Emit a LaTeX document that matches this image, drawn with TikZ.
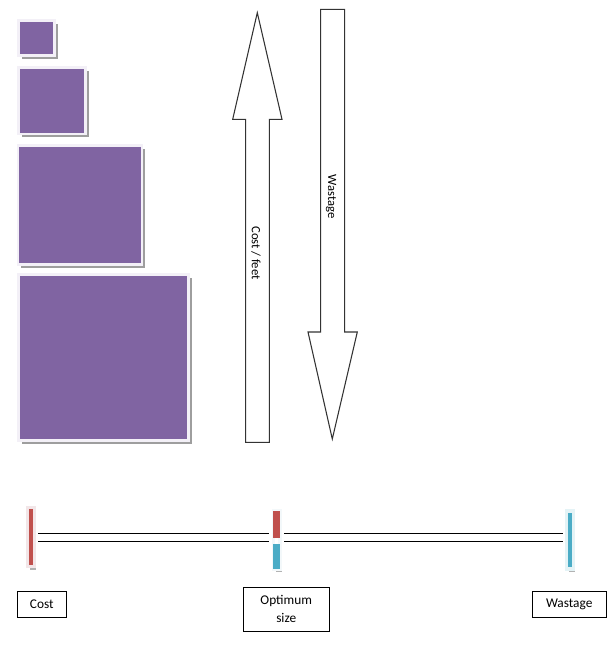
\documentclass[tikz,border=0pt]{standalone}
\usepackage{fontspec}
\setmainfont{Carlito}
\usetikzlibrary{shadows}
\definecolor{sqpurple}{HTML}{8064A2}
\definecolor{sqframe}{HTML}{F3F0F7}
\definecolor{barred}{HTML}{C0504D}
\definecolor{barblue}{HTML}{4BACC6}
\definecolor{barframe}{HTML}{F2E6E8}
\definecolor{outline}{HTML}{333333}
\begin{document}
\begin{tikzpicture}[x=0.75pt,y=-0.75pt,
  sq/.style={rectangle, inner sep=0pt, outer sep=0pt, fill=sqpurple, draw=sqframe,
    line width=2pt, drop shadow={shadow xshift=2.4pt, shadow yshift=-2.4pt, fill=black!38, opacity=1}},
  bar/.style={rectangle, inner sep=0pt, outer sep=0pt, draw=barframe, line width=2.4pt,
    minimum width=6.5*0.75pt,
    drop shadow={shadow xshift=1.6pt, shadow yshift=-2.2pt, fill=black!30, opacity=1}},
  bigarrow/.style={draw=outline, line width=0.8pt, fill=white, line join=miter},
  lbl/.style={rectangle, draw=black, line width=0.75pt, inner sep=0pt, outer sep=0pt,
    font=\fontsize{10}{13.5}\selectfont, align=center},
  rotlbl/.style={font=\fontsize{9.5}{11}\selectfont, rotate=-90, inner sep=0pt},
  dbl/.style={draw=black, line width=0.75pt, double=white, double distance=5pt,
    shorten <=3pt, shorten >=3pt}
]
\useasboundingbox (0,0) rectangle (613,658);

% purple squares
\node[sq, minimum width=36.3*0.75pt, minimum height=35.3*0.75pt] (sqa) at (36.5,38) {};
\node[sq, minimum width=67.3*0.75pt, minimum height=66.3*0.75pt] (sqb) at (52,100.8) {};
\node[sq, minimum width=124*0.75pt, minimum height=119.3*0.75pt] (sqc) at (80,205) {};
\node[sq, minimum width=170.3*0.75pt, minimum height=166.3*0.75pt] (sqd) at (103.5,357.5) {};

% up arrow: Cost / feet
\path[bigarrow] (257.3,12.7) -- (282,119.3) -- (269.3,119.3) -- (269.3,442.3)
  -- (245.7,442.3) -- (245.7,119.3) -- (232.7,119.3) -- cycle;
\node[rotlbl] (costfeet) at (256,253) {Cost / feet};

% down arrow: Wastage
\path[bigarrow] (320.7,9.3) -- (344.7,9.3) -- (344.7,332) -- (357.3,332)
  -- (332.3,439) -- (308,332) -- (320.7,332) -- cycle;
\node[rotlbl] (wastearrow) at (331,197) {Wastage};

% bars
\node[bar, minimum height=59*0.75pt, fill=barred] (costbar) at (30.85,537.2) {};
\node[bar, minimum height=58*0.75pt, fill=white, draw=barframe!60!barblue!15] (optbar) at (276.65,540) {};
\fill[barred] (273.3,511) rectangle (280,537.7);
\fill[barblue] (273.3,544.3) rectangle (280,569);
\node[bar, minimum height=58*0.75pt, fill=barblue, draw=barblue!15] (wastbar) at (570,540) {};

% double connectors
\draw[dbl] (costbar.east) -- (costbar.east -| optbar.west);
\draw[dbl] (optbar.east |- costbar.east) -- (wastbar.west |- costbar.east);

% labels
\node[lbl, minimum width=49*0.75pt, minimum height=26*0.75pt] (costlbl) at (41.8,604.3) {Cost};
\node[lbl, minimum width=85.7*0.75pt, minimum height=43.7*0.75pt] (optlbl) at (286.2,609.2) {Optimum\\size};
\node[lbl, minimum width=73.7*0.75pt, minimum height=26*0.75pt] (wastlbl) at (569.2,604.3) {Wastage};
\end{tikzpicture}
\end{document}
